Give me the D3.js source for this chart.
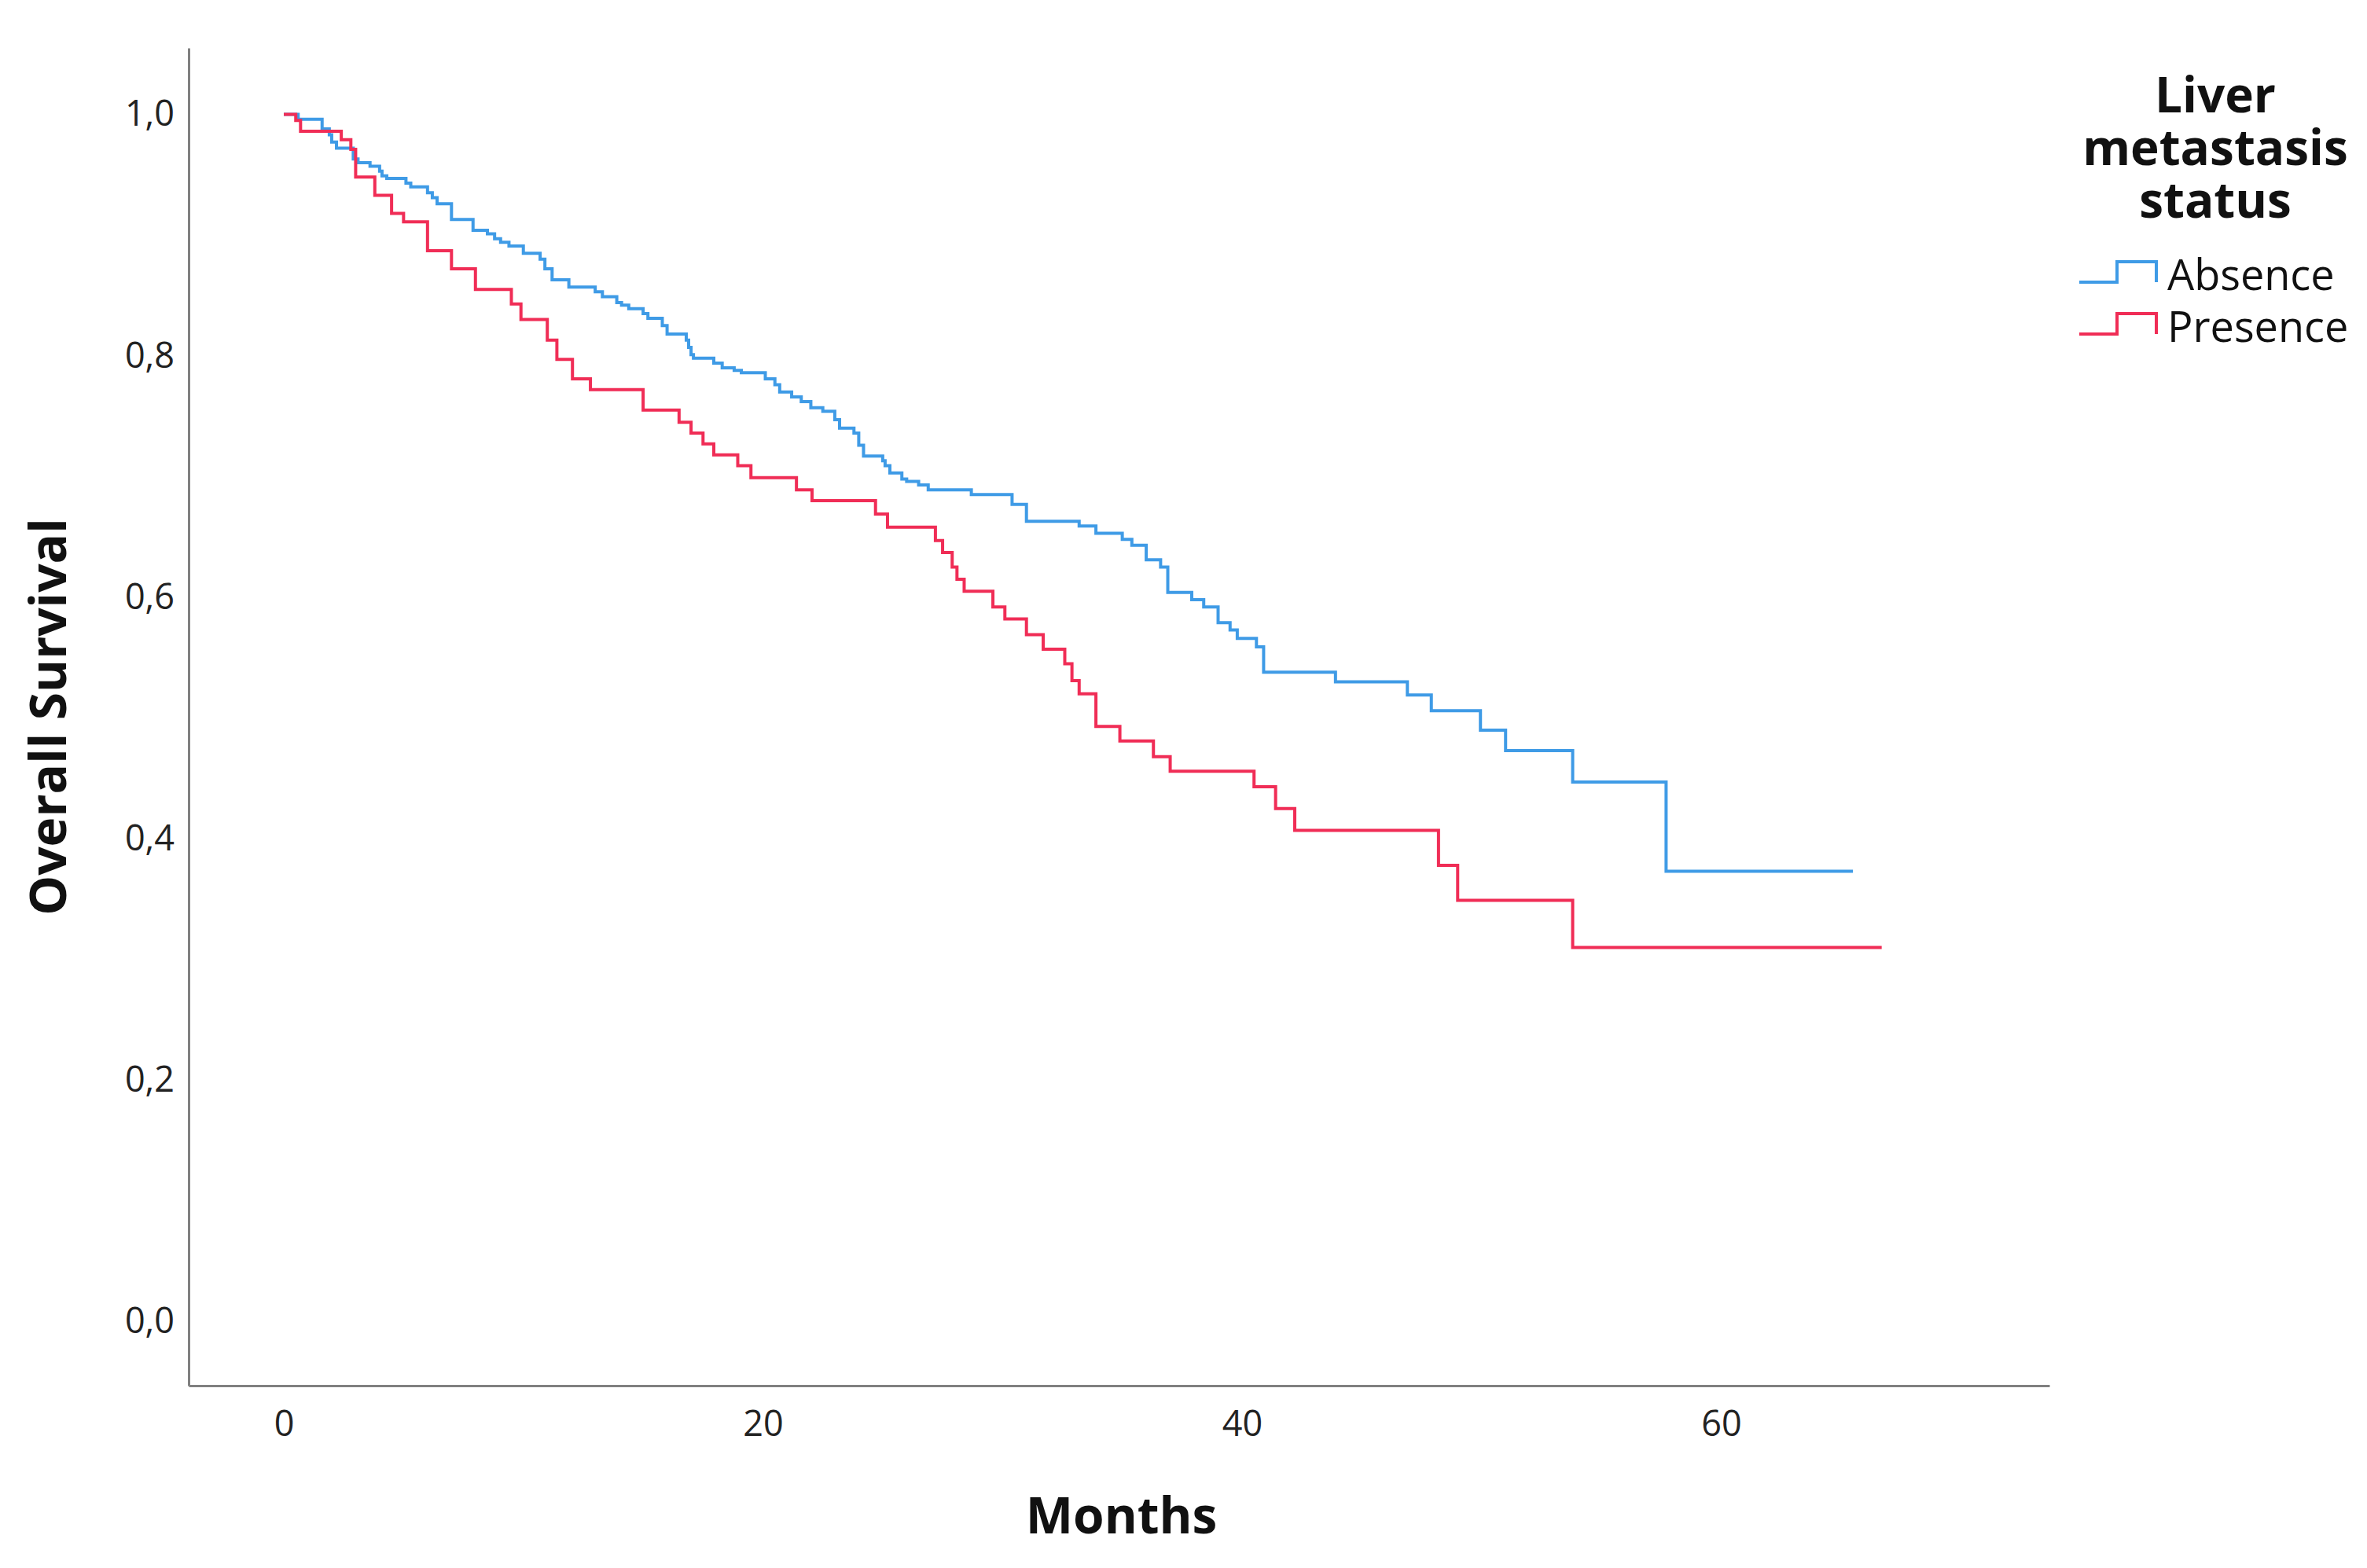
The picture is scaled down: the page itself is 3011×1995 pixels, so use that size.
<!DOCTYPE html>
<html>
<head>
<meta charset="utf-8">
<script src="https://cdn.jsdelivr.net/npm/d3@7"></script>
<style>
  html, body { margin: 0; padding: 0; background: #ffffff; }
  svg { display: block; }
</style>
</head>
<body>
<script>
// ---------- Data ----------
const groups = ["Absence", "Presence"];
const legendTitle = ["Liver", "metastasis", "status"];
const xTicks = [0, 20, 40, 60];
const yTicks = [0, 0.2, 0.4, 0.6, 0.8, 1.0];
const xLabel = "Months";
const yLabel = "Overall Survival";

// Kaplan-Meier steps: [month, survival after the step]
const absenceCurve = [
  [0,1.0],[0.6,0.996],[1.6,0.988],[1.9,0.983],[2.0,0.977],[2.2,0.972],[2.9,0.963],[3.1,0.960],
  [3.6,0.957],[4.0,0.953],[4.1,0.949],[4.3,0.947],[5.1,0.943],[5.3,0.940],[6.0,0.935],[6.2,0.931],
  [6.4,0.926],[7.0,0.913],[7.9,0.904],[8.5,0.901],[8.8,0.897],[9.05,0.894],[9.4,0.891],[10.0,0.885],
  [10.7,0.880],[10.9,0.872],[11.2,0.863],[11.9,0.857],[13.0,0.853],[13.3,0.849],[13.9,0.844],
  [14.1,0.842],[14.4,0.839],[15.0,0.835],[15.2,0.831],[15.8,0.825],[16.0,0.818],[16.8,0.813],
  [16.9,0.807],[17.0,0.801],[17.1,0.798],[17.95,0.794],[18.3,0.790],[18.8,0.788],[19.1,0.786],
  [20.1,0.781],[20.5,0.776],[20.7,0.770],[21.2,0.766],[21.6,0.762],[22.0,0.757],[22.5,0.754],
  [23.0,0.747],[23.2,0.740],[23.8,0.736],[24.0,0.726],[24.2,0.717],[25.0,0.713],[25.1,0.709],
  [25.3,0.703],[25.8,0.698],[26.0,0.696],[26.5,0.693],[26.9,0.689],[28.7,0.685],[30.4,0.677],
  [31.0,0.663],[33.2,0.659],[33.9,0.653],[35.0,0.648],[35.4,0.643],[36.0,0.631],[36.6,0.625],
  [36.9,0.604],[37.9,0.598],[38.4,0.592],[39.0,0.579],[39.5,0.573],[39.8,0.566],[40.6,0.559],
  [40.9,0.538],[43.9,0.530],[46.9,0.519],[47.9,0.506],[49.95,0.490],[51.0,0.473],[53.8,0.447],
  [57.7,0.373],[65.5,0.373]
];
const presenceCurve = [
  [0,1.0],[0.5,0.995],[0.7,0.986],[2.4,0.979],[2.8,0.971],[3.0,0.948],[3.8,0.933],[4.5,0.918],
  [5.0,0.911],[6.0,0.887],[7.0,0.872],[8.0,0.855],[9.5,0.843],[9.9,0.830],[11.0,0.813],[11.4,0.797],
  [12.05,0.781],[12.8,0.772],[15.0,0.755],[16.5,0.745],[17.0,0.736],[17.5,0.727],[17.95,0.718],
  [18.95,0.709],[19.5,0.699],[21.4,0.689],[22.05,0.680],[24.7,0.669],[25.2,0.658],[27.2,0.647],
  [27.5,0.637],[27.9,0.625],[28.1,0.615],[28.4,0.605],[29.6,0.592],[30.1,0.582],[31.0,0.569],
  [31.7,0.557],[32.6,0.545],[32.9,0.531],[33.2,0.520],[33.9,0.493],[34.9,0.481],[36.3,0.468],
  [37.0,0.456],[40.5,0.443],[41.4,0.425],[42.2,0.407],[48.2,0.378],[49.0,0.349],[53.8,0.310],
  [66.7,0.310]
];
const curves = [absenceCurve, presenceCurve];
const colors = ["#3f9be6", "#f02d56"];

// ---------- Layout ----------
const W = 3011, H = 1995;
const font = "'Open Sans', 'DejaVu Sans', sans-serif";

const svg = d3.select("body").append("svg")
  .attr("width", W).attr("height", H)
  .attr("viewBox", `0 0 ${W} ${H}`);

svg.append("rect").attr("width", W).attr("height", H).attr("fill", "#fff");

const x = d3.scaleLinear().domain([-3.97, 73.7]).range([240, 2607]);
const y = d3.scaleLinear().domain([-0.053, 1.055]).range([1763, 61]);

const locale = d3.formatLocale({decimal: ",", thousands: ".", grouping: [3], currency: ["", ""]});
const fmtY = locale.format(".1f");

// Axes
const gx = svg.append("g").attr("transform", `translate(0,${y.range()[0]})`)
  .call(d3.axisBottom(x).tickValues(xTicks).tickSize(0).tickPadding(32).tickFormat(d3.format("d")));
const gy = svg.append("g").attr("transform", `translate(${x.range()[0]},0)`)
  .call(d3.axisLeft(y).tickValues(yTicks).tickSize(0).tickPadding(18).tickFormat(fmtY));

[gx, gy].forEach(g => {
  g.select(".domain").attr("stroke", "#808080").attr("stroke-width", 3);
  g.selectAll("text").attr("font-family", font).attr("font-size", 45).attr("fill", "#222");
});

// Curves
const line = d3.line().x(d => x(d[0])).y(d => y(d[1])).curve(d3.curveStepAfter);
svg.append("g").selectAll("path").data(curves).join("path")
  .attr("d", d => line(d))
  .attr("fill", "none")
  .attr("stroke", (d, i) => colors[i])
  .attr("stroke-width", 4)
  .attr("stroke-linejoin", "miter");

// Axis titles
svg.append("text")
  .attr("x", (x.range()[0] + x.range()[1]) / 2 + 3)
  .attr("y", 1951)
  .attr("text-anchor", "middle")
  .attr("font-family", font).attr("font-weight", "bold").attr("font-size", 64)
  .attr("fill", "#111")
  .text(xLabel);

svg.append("text")
  .attr("transform", `translate(84,${912}) rotate(-90)`)
  .attr("text-anchor", "middle")
  .attr("font-family", font).attr("font-weight", "bold").attr("font-size", 64)
  .attr("fill", "#111")
  .text(yLabel);

// Legend
const lg = svg.append("g");
lg.selectAll("text.title").data(legendTitle).join("text")
  .attr("class", "title")
  .attr("x", 2818)
  .attr("y", (d, i) => 143 + i * 67)
  .attr("text-anchor", "middle")
  .attr("font-family", font).attr("font-weight", "bold").attr("font-size", 62)
  .attr("fill", "#111")
  .text(d => d);

const items = lg.selectAll("g.item").data(groups).join("g")
  .attr("class", "item")
  .attr("transform", (d, i) => `translate(0,${i * 66})`);

items.append("path")
  .attr("d", "M2645,359 H2693 V333 H2743 V359")
  .attr("fill", "none")
  .attr("stroke", (d, i) => colors[i])
  .attr("stroke-width", 4);

items.append("text")
  .attr("x", 2757)
  .attr("y", 350)
  .attr("dy", "0.36em")
  .attr("font-family", font).attr("font-size", 54)
  .attr("fill", "#111")
  .text(d => d);
</script>
</body>
</html>
